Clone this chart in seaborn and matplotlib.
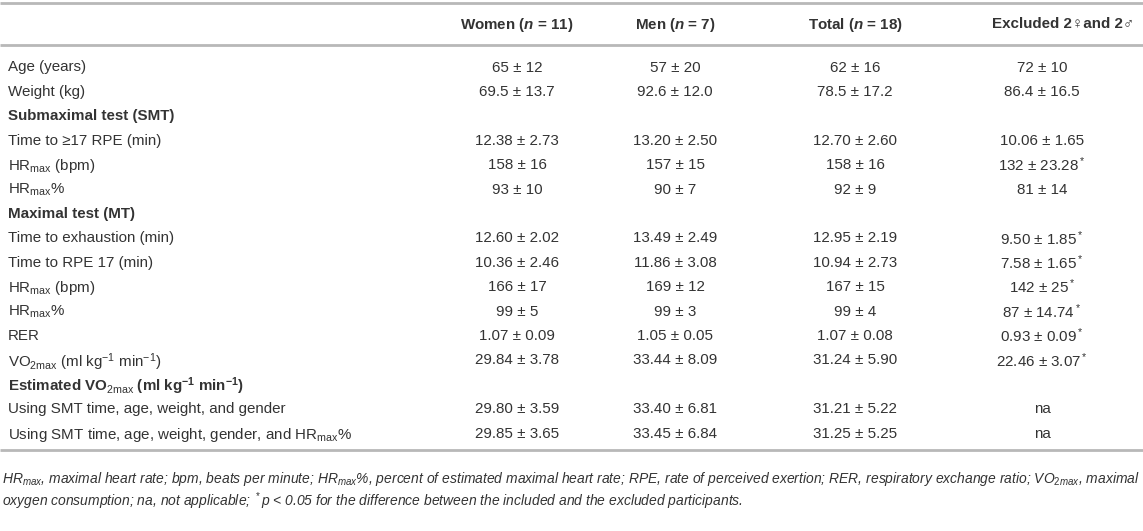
import matplotlib
matplotlib.use("Agg")
import matplotlib.pyplot as plt
import seaborn as sns

sns.set_theme(style="white")
plt.rcParams['font.family'] = ['Liberation Sans', 'DejaVu Sans']
plt.rcParams['mathtext.fontset'] = 'custom'
plt.rcParams['mathtext.rm'] = 'Liberation Sans'
plt.rcParams['mathtext.it'] = 'Liberation Sans:italic'
plt.rcParams['mathtext.bf'] = 'Liberation Sans:bold'
plt.rcParams['mathtext.bfit'] = 'Liberation Sans:italic:bold'

# ---------------- data ----------------
col_headers = [r"Women ($\mathbfit{n}$ = 11)", r"Men ($\mathbfit{n}$ = 7)",
               r"Total ($\mathbfit{n}$ = 18)", "Excluded 2\u2640and 2\u2642"]

row_labels = [
    "Age (years)",
    "Weight (kg)",
    "Submaximal test (SMT)",
    "Time to \u226517 RPE (min)",
    r"HR$_\mathrm{max}$ (bpm)",
    r"HR$_\mathrm{max}$%",
    "Maximal test (MT)",
    "Time to exhaustion (min)",
    "Time to RPE 17 (min)",
    r"HR$_\mathrm{max}$ (bpm)",
    r"HR$_\mathrm{max}$%",
    "RER",
    r"VO$_\mathrm{2max}$ (ml kg$^\mathrm{-1}$ min$^\mathrm{-1}$)",
    r"Estimated VO$_\mathrm{2max}$ (ml kg$^\mathbf{-1}$ min$^\mathbf{-1}$)",
    "Using SMT time, age, weight, and gender",
    r"Using SMT time, age, weight, gender, and HR$_\mathrm{max}$%",
]
row_is_section = [False, False, True, False, False, False, True,
                  False, False, False, False, False, False, True, False, False]

women = ["65 ± 12", "69.5 ± 13.7", "", "12.38 ± 2.73", "158 ± 16", "93 ± 10", "",
         "12.60 ± 2.02", "10.36 ± 2.46", "166 ± 17", "99 ± 5", "1.07 ± 0.09",
         "29.84 ± 3.78", "", "29.80 ± 3.59", "29.85 ± 3.65"]
men = ["57 ± 20", "92.6 ± 12.0", "", "13.20 ± 2.50", "157 ± 15", "90 ± 7", "",
       "13.49 ± 2.49", "11.86 ± 3.08", "169 ± 12", "99 ± 3", "1.05 ± 0.05",
       "33.44 ± 8.09", "", "33.40 ± 6.81", "33.45 ± 6.84"]
total = ["62 ± 16", "78.5 ± 17.2", "", "12.70 ± 2.60", "158 ± 16", "92 ± 9", "",
         "12.95 ± 2.19", "10.94 ± 2.73", "167 ± 15", "99 ± 4", "1.07 ± 0.08",
         "31.24 ± 5.90", "", "31.21 ± 5.22", "31.25 ± 5.25"]
excluded = ["72 ± 10", "86.4 ± 16.5", "", "10.06 ± 1.65", "132 ± 23.28$^*$", "81 ± 14", "",
            "9.50 ± 1.85$^*$", "7.58 ± 1.65$^*$", "142 ± 25$^*$", "87 ± 14.74$^*$",
            "0.93 ± 0.09$^*$", "22.46 ± 3.07$^*$", "", "na", "na"]

footnote_lines = [
    r"HR$_{max}$, maximal heart rate; bpm, beats per minute; HR$_{max}$%, percent of estimated maximal heart rate; "
    r"RPE, rate of perceived exertion; RER, respiratory exchange ratio; VO$_{2max}$, maximal",
    r"oxygen consumption; na, not applicable; $^*$p < 0.05 for the difference between the included and the excluded participants.",
]

# ---------------- layout ----------------
W, H = 1143, 531
fig = plt.figure(figsize=(W / 100, H / 100), dpi=100)
ax = fig.add_axes([0, 0, 1, 1])
ax.set_xlim(0, W)
ax.set_ylim(H, 0)
ax.axis("off")

txt_color = "#333333"
line_color = "#b8b8b8"
fs = 10.9
fs_note = 10.0

col_x = [517, 675, 855, 1042]
head_x = [517, 675, 855, 1063]

ax.hlines([3, 45, 450], 0, W, color=line_color, lw=2.0)

for x, h in zip(head_x, col_headers):
    ax.text(x, 23, h, ha="center", va="center_baseline", fontsize=fs,
            fontweight="bold", color=txt_color)

y0, dy = 66, 24.4
columns = [women, men, total, excluded]
for i, (lab, sec) in enumerate(zip(row_labels, row_is_section)):
    y = y0 + i * dy
    ax.text(8, y, lab, ha="left", va="center_baseline", fontsize=fs,
            fontweight="bold" if sec else "normal", color=txt_color)
    for x, col in zip(col_x, columns):
        if col[i]:
            ax.text(x, y, col[i], ha="center", va="center_baseline", fontsize=fs,
                    color=txt_color)

for j, line in enumerate(footnote_lines):
    ax.text(2, 476 + j * 22, line, ha="left", va="center_baseline", fontsize=fs_note,
            style="italic", color=txt_color)

fig.savefig("out.png", dpi=100, facecolor="white")
